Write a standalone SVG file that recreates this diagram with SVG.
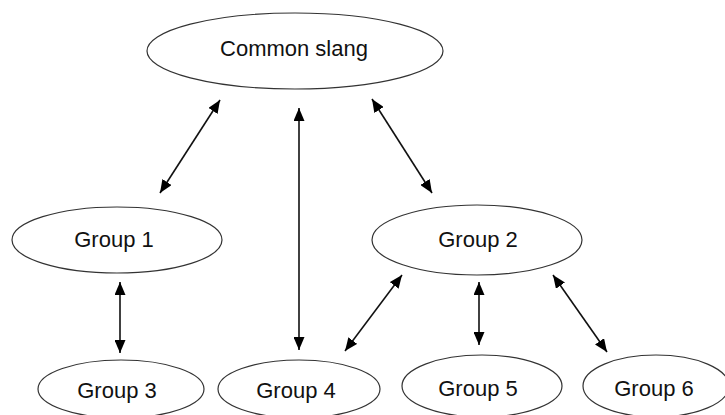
<svg xmlns="http://www.w3.org/2000/svg" width="725" height="415" viewBox="0 0 725 415">
<defs>
<style>
.node ellipse{fill:#fff;stroke:#333;stroke-width:1.2}
.node text{font-family:"Liberation Sans",Arial,sans-serif;font-size:22px;fill:#111;text-anchor:middle;dominant-baseline:central}
.conn line{stroke:#111;stroke-width:1.6;marker-start:url(#ah);marker-end:url(#ah)}
</style>
<marker id="ah" markerUnits="userSpaceOnUse" markerWidth="13" markerHeight="11" refX="13" refY="5.5" orient="auto-start-reverse" viewBox="0 0 13 11">
<path d="M0,0 L13,5.5 L0,11 z" fill="#000"/>
</marker>
</defs>
<rect width="725" height="415" fill="#fff"/>
<g id="common-slang" class="node"><ellipse cx="295" cy="51" rx="148" ry="38"/><text x="294" y="48">Common slang</text></g>
<g id="group-1" class="node"><ellipse cx="117" cy="240" rx="105" ry="33"/><text x="114" y="239">Group 1</text></g>
<g id="group-2" class="node"><ellipse cx="477" cy="240" rx="105" ry="35"/><text x="478" y="239">Group 2</text></g>
<g id="group-3" class="node"><ellipse cx="121" cy="389" rx="83" ry="29"/><text x="117" y="390">Group 3</text></g>
<g id="group-4" class="node"><ellipse cx="299" cy="389" rx="81" ry="29"/><text x="296" y="390">Group 4</text></g>
<g id="group-5" class="node"><ellipse cx="482" cy="386" rx="80" ry="31"/><text x="478" y="388">Group 5</text></g>
<g id="group-6" class="node"><ellipse cx="656" cy="386" rx="73" ry="31"/><text x="654" y="388">Group 6</text></g>
<g id="connectors" class="conn">
<line x1="220" y1="100" x2="160" y2="193"/>
<line x1="299" y1="108" x2="299" y2="350"/>
<line x1="372" y1="99" x2="432" y2="193"/>
<line x1="120" y1="282" x2="120" y2="353"/>
<line x1="402" y1="275" x2="345" y2="351"/>
<line x1="479" y1="282" x2="479" y2="345"/>
<line x1="553" y1="275" x2="607" y2="352"/>
</g>
</svg>
